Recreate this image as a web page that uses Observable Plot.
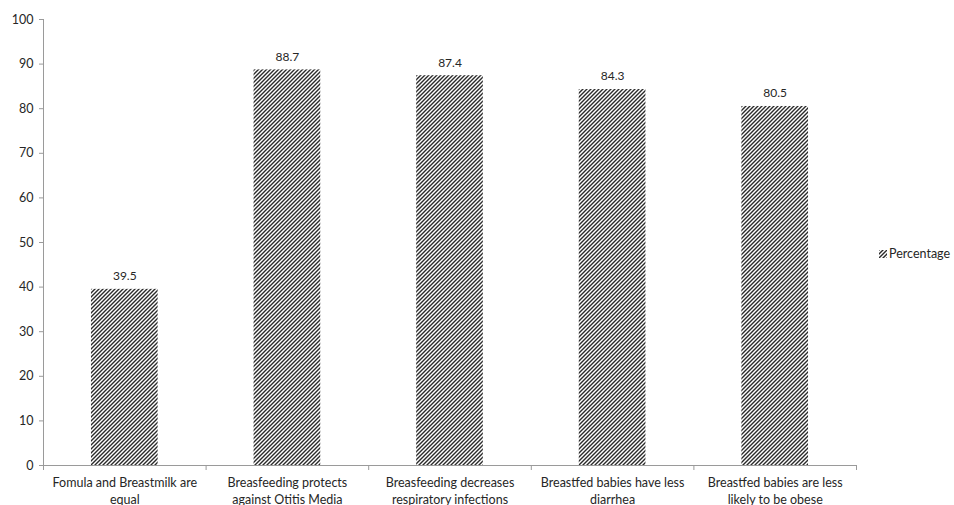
<!DOCTYPE html>
<html>
<head>
<meta charset="utf-8">
<script src="https://cdn.jsdelivr.net/npm/d3@7"></script>
<script src="https://cdn.jsdelivr.net/npm/@observablehq/plot@0.6"></script>
<style>
  html, body { margin: 0; padding: 0; background: #fff; }
  #chart svg { display: block; }
</style>
</head>
<body>
<div id="chart"></div>
<script>
// Survey statements (two-line axis labels) and share of respondents agreeing
const categories = [
  "Fomula and Breastmilk are\nequal",
  "Breasfeeding protects\nagainst Otitis Media",
  "Breasfeeding decreases\nrespiratory infections",
  "Breastfed babies have less\ndiarrhea",
  "Breastfed babies are less\nlikely to be obese"
];
const percentages = [39.5, 88.7, 87.4, 84.3, 80.5];
const yTicks = [0, 10, 20, 30, 40, 50, 60, 70, 80, 90, 100];
const seriesName = "Percentage";

const rows = categories.map((c, i) => ({i, label: c, value: percentages[i]}));
const halfBar = 0.205; // half of a bar's width, in category units
const font = "Lato, 'Open Sans', sans-serif";
const ink = "#262626";
const axisGrey = "#9a9a9a";

const chart = Plot.plot({
  width: 954,
  height: 505,
  marginTop: 19,
  marginBottom: 40,
  marginLeft: 43,
  marginRight: 98,
  style: {fontFamily: font, fontSize: "12px", color: ink, background: "#fff"},
  x: {type: "linear", domain: [0, categories.length], axis: null},
  y: {domain: [0, 100], axis: null, label: null},
  marks: [
    // y axis: line, outward ticks, labels
    Plot.ruleX([0], {y1: 0, y2: 100, stroke: axisGrey, strokeWidth: 1}),
    Plot.axisY(yTicks, {tickSize: 4, tickPadding: 6, stroke: axisGrey, fill: ink, fontSize: 12.5, label: null}),
    // hatched bars
    Plot.rectY(rows, {x1: d => d.i + 0.5 - halfBar, x2: d => d.i + 0.5 + halfBar, y1: 0, y2: "value", fill: "url(#hatch)"}),
    // value labels
    Plot.text(rows, {x: d => d.i + 0.5, y: "value", text: d => d.value.toFixed(1), dy: -13, fill: ink, fontSize: 12}),
    // x axis: baseline, boundary ticks, category labels
    Plot.ruleY([0], {x1: 0, x2: categories.length, stroke: axisGrey, strokeWidth: 1.2}),
    Plot.axisX(d3.range(categories.length + 1), {tickFormat: () => "", tickSize: 5, stroke: axisGrey, label: null}),
    Plot.text(rows, {x: d => d.i + 0.5, y: 0, text: "label", dy: 10, lineAnchor: "top", lineHeight: 1.33, fill: ink, fontSize: 12.5})
  ]
});

// hatch pattern used by the bars and the legend swatch
const svg = d3.select(chart);
const defs = svg.insert("defs", ":first-child");
const pat = defs.append("pattern")
  .attr("id", "hatch")
  .attr("patternUnits", "userSpaceOnUse")
  .attr("width", 4).attr("height", 4);
pat.append("rect").attr("width", 4).attr("height", 4).attr("fill", "#fff");
pat.append("path")
  .attr("d", "M-1,1 l2,-2 M0,4 l4,-4 M3,5 l2,-2")
  .attr("stroke", "#2a2a2a").attr("stroke-width", 1.4);

// legend on the right
const legend = svg.append("g").attr("transform", "translate(879,254)");
legend.append("rect").attr("x", 0).attr("y", -4).attr("width", 8).attr("height", 8).attr("fill", "url(#hatch)");
legend.append("text")
  .attr("x", 10).attr("y", 0).attr("dy", "0.35em")
  .attr("text-anchor", "start")
  .attr("font-family", font).attr("font-size", 12.5).attr("fill", ink)
  .text(seriesName);

document.getElementById("chart").append(chart);
</script>
</body>
</html>
